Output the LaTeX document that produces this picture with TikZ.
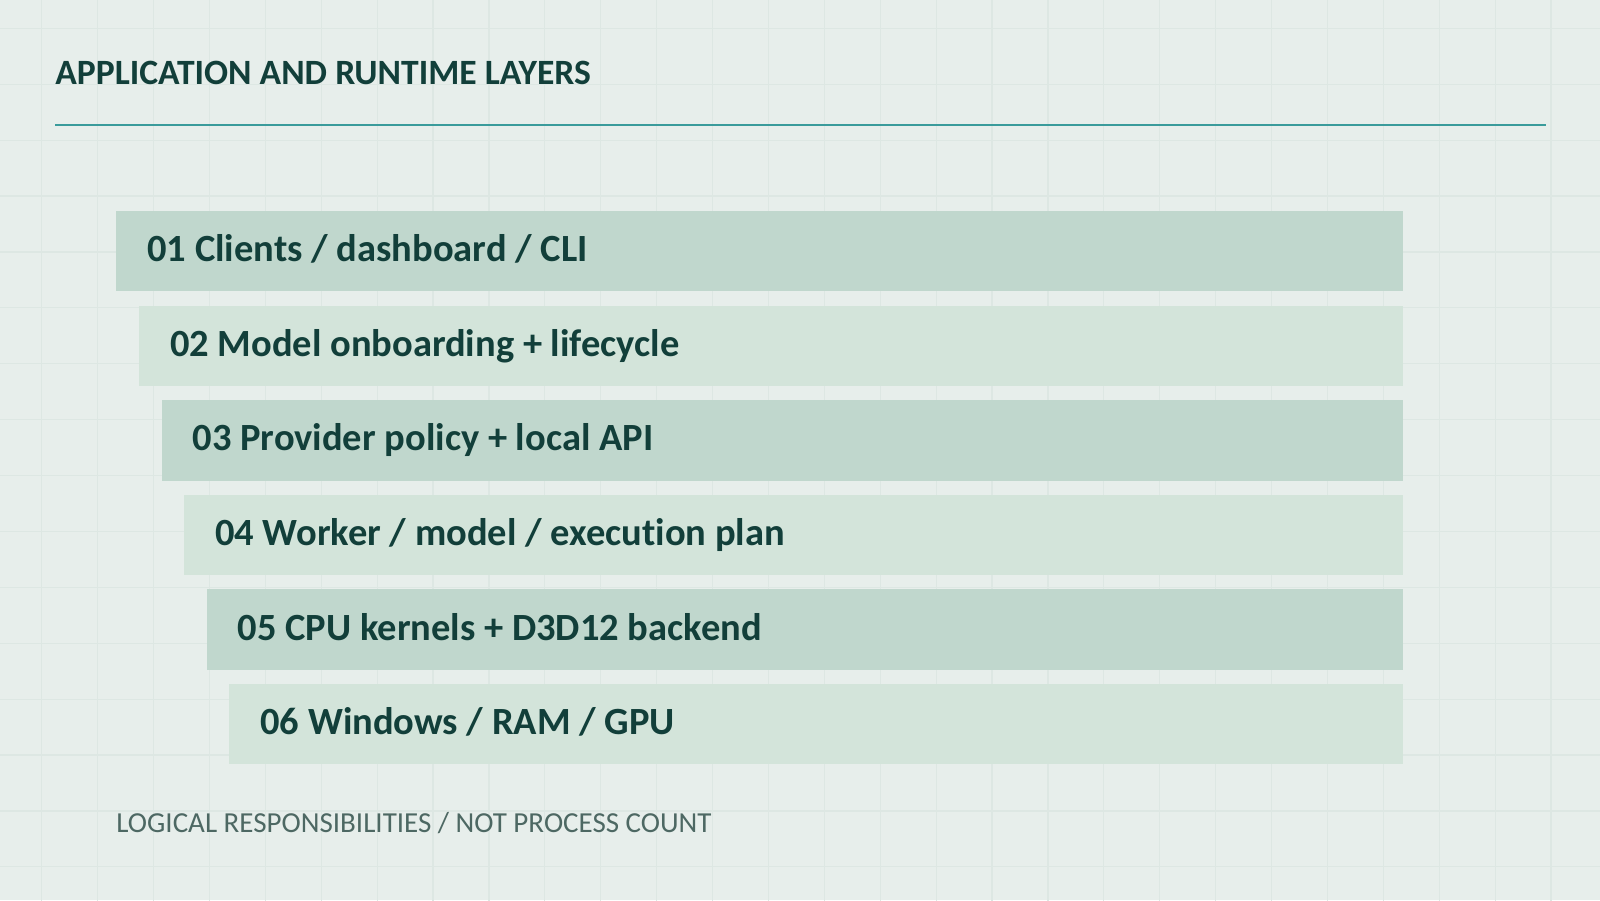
\documentclass[tikz,border=0pt]{standalone}
\usepackage{fontspec}
\setmainfont{Carlito}[Ligatures=NoCommon]
\usepackage{tikz, xcolor}

\definecolor{paper}{HTML}{E7EEEB}
\definecolor{gridcol}{HTML}{DDE7E3}
\definecolor{bardark}{HTML}{C0D7CD}
\definecolor{barlight}{HTML}{D3E4DA}
\definecolor{inkdark}{HTML}{123F3A}
\definecolor{rulecol}{HTML}{3A9B9B}
\definecolor{inksoft}{HTML}{4D6863}

\begin{document}
\begin{tikzpicture}[x=0.5pt, y=-0.5pt,
    layer/.style={rectangle, anchor=north west, inner xsep=15.5pt, inner ysep=0pt,
        minimum height=40.25pt, text height=10.5pt, text depth=0pt, align=flush left,
        text=inkdark, font=\bfseries\fontsize{19.25}{22}\selectfont},
    dark/.style={layer, fill=bardark},
    light/.style={layer, fill=barlight}]

    \useasboundingbox (0,0) rectangle (1600,900);
    \fill[paper] (0,0) rectangle (1600,900);
    \begin{scope}
    \clip (0,0) rectangle (1600,900);
    \draw[gridcol, line width=0.6pt, shift={(41.7,28.3)}] (-55.9,-55.9) grid[step=27.95pt] (1600,900);
    \end{scope}

    \node[anchor=base west, inner sep=0pt, text=inkdark, font=\bfseries\fontsize{17.8}{20}\selectfont]
        (title) at (55,84) {APPLICATION AND RUNTIME LAYERS};
    \coordinate (ruleL) at (55,125);
    \coordinate (ruleR) at (1546,125);
    \draw[rulecol, line width=1pt] (ruleL) -- (ruleR);

    \node[dark, text width=612.5pt]  (l1) at (116.0,210.5) {01 Clients / dashboard / CLI};
    \node[light, text width=601.2pt] (l2) at (138.6,305.1) {02 Model onboarding + lifecycle};
    \node[dark, text width=589.9pt]  (l3) at (161.2,399.7) {03 Provider policy + local API};
    \node[light, text width=578.6pt] (l4) at (183.8,494.3) {04 Worker / model / execution plan};
    \node[dark, text width=567.3pt]  (l5) at (206.4,588.9) {05 CPU kernels + D3D12 backend};
    \node[light, text width=556.0pt] (l6) at (229.0,683.5) {06 Windows / RAM / GPU};

    \node[anchor=base west, inner sep=0pt, text=inksoft, font=\fontsize{14.5}{17}\selectfont]
        (note) at (116,832) {LOGICAL RESPONSIBILITIES / NOT PROCESS COUNT};
\end{tikzpicture}
\end{document}
